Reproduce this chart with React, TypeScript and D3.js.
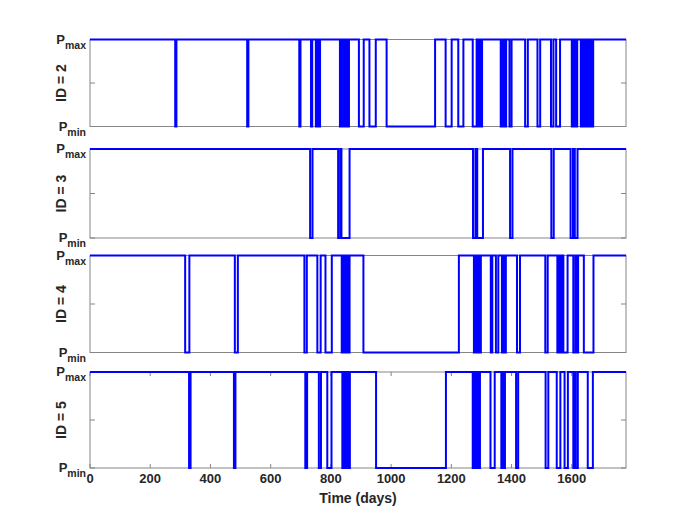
import * as React from 'react';
import * as d3 from 'd3';

// low (Pmin) intervals in days, signal sits at Pmax otherwise
const lowId2: [number, number][] = [
  [283, 287], [522, 526], [695, 699], [734, 738], [750, 754], [759, 764],
  [830, 834], [837, 841], [843, 846], [849, 853], [856, 860], [893, 909],
  [928, 949], [985, 1146], [1181, 1201], [1223, 1240], [1271, 1284],
  [1287, 1291], [1294, 1297], [1299, 1302], [1364, 1368], [1371, 1375],
  [1378, 1382], [1393, 1400], [1445, 1454], [1486, 1495], [1531, 1539],
  [1548, 1561], [1600, 1604], [1607, 1611], [1614, 1618], [1630, 1636],
  [1640, 1645], [1648, 1654], [1658, 1663], [1666, 1671],
];

const lowId3: [number, number][] = [
  [731, 739], [824, 831], [835, 862], [1272, 1280], [1286, 1305],
  [1395, 1403], [1532, 1540], [1596, 1604], [1610, 1619],
];

const lowId4: [number, number][] = [
  [316, 330], [481, 491], [712, 720], [755, 766], [782, 803],
  [836, 840], [843, 847], [850, 855], [857, 862], [908, 1225],
  [1275, 1279], [1282, 1286], [1289, 1293], [1295, 1298],
  [1331, 1336], [1348, 1356], [1368, 1372], [1376, 1381], [1418, 1428],
  [1512, 1520], [1552, 1558], [1562, 1566], [1572, 1586],
  [1605, 1612], [1615, 1621], [1640, 1672],
];

const lowId5: [number, number][] = [
  [329, 334], [478, 483], [715, 721], [760, 767], [788, 802],
  [838, 842], [846, 850], [852, 856], [858, 863], [950, 1182],
  [1271, 1275], [1278, 1282], [1285, 1289], [1291, 1295], [1330, 1344],
  [1366, 1370], [1373, 1378], [1415, 1422], [1513, 1522], [1550, 1562],
  [1576, 1587], [1605, 1610], [1613, 1620], [1653, 1670],
];

const panelIds = [2, 3, 4, 5];
const panelLows = [lowId2, lowId3, lowId4, lowId5];
const xTicks = [0, 200, 400, 600, 800, 1000, 1200, 1400, 1600];
const yTicks = [0, 0.5, 1];
const X_MAX = 1780;

interface Point {
  t: number;
  v: number;
}

const toSteps = (lows: [number, number][]): Point[] => {
  const pts: Point[] = [{ t: 0, v: 1 }];
  lows.forEach(([a, b]) => {
    pts.push({ t: a, v: 1 }, { t: a, v: 0 }, { t: b, v: 0 }, { t: b, v: 1 });
  });
  pts.push({ t: X_MAX, v: 1 });
  return pts;
};

const App = () => {
  const ref = React.useRef<SVGSVGElement>(null);

  const width = 692;
  const height = 526;
  const left = 90;
  const right = 626;
  const boxes = [
    { top: 39.5, bottom: 126.5 },
    { top: 149, bottom: 238 },
    { top: 255.5, bottom: 352.5 },
    { top: 372, bottom: 468 },
  ];
  const font = '"Liberation Sans", Arial, sans-serif';
  const axisColor = '#858585';

  React.useEffect(() => {
    const svg = d3.select(ref.current);
    svg.selectAll('*').remove();

    const x = d3.scaleLinear().domain([0, X_MAX]).range([left, right]);

    boxes.forEach((box, i) => {
      const y = d3.scaleLinear().domain([0, 1]).range([box.bottom, box.top]);
      const g = svg.append('g');

      // frame
      g.append('rect')
        .attr('x', left)
        .attr('y', box.top)
        .attr('width', right - left)
        .attr('height', box.bottom - box.top)
        .attr('fill', 'none')
        .attr('stroke', axisColor)
        .attr('stroke-width', 1);

      // y ticks both sides
      yTicks.forEach((v) => {
        g.append('line')
          .attr('x1', left).attr('x2', left + 5)
          .attr('y1', y(v)).attr('y2', y(v))
          .attr('stroke', axisColor);
        g.append('line')
          .attr('x1', right - 5).attr('x2', right)
          .attr('y1', y(v)).attr('y2', y(v))
          .attr('stroke', axisColor);
      });

      // P labels
      [
        { v: 1, sub: 'max' },
        { v: 0, sub: 'min' },
      ].forEach((d) => {
        const t = g.append('text')
          .attr('x', 86)
          .attr('y', y(d.v) + 4)
          .attr('text-anchor', 'end')
          .attr('font-family', font)
          .attr('font-weight', 'bold')
          .attr('fill', '#262626');
        t.append('tspan').attr('font-size', 13).text('P');
        t.append('tspan').attr('font-size', 10.5).attr('dy', 5).text(d.sub);
      });

      // ID label
      const cy = (box.top + box.bottom) / 2;
      g.append('text')
        .attr('transform', `translate(66, ${cy}) rotate(-90)`)
        .attr('text-anchor', 'middle')
        .attr('font-family', font)
        .attr('font-weight', 'bold')
        .attr('font-size', 14)
        .attr('fill', '#262626')
        .text(`ID = ${panelIds[i]}`);

      // x ticks only on the last panel
      if (i === boxes.length - 1) {
        xTicks.forEach((t) => {
          g.append('line')
            .attr('x1', x(t)).attr('x2', x(t))
            .attr('y1', box.bottom).attr('y2', box.bottom - 4)
            .attr('stroke', axisColor);
          g.append('line')
            .attr('x1', x(t)).attr('x2', x(t))
            .attr('y1', box.top).attr('y2', box.top + 4)
            .attr('stroke', axisColor);
          g.append('text')
            .attr('x', x(t))
            .attr('y', box.bottom + 15)
            .attr('text-anchor', 'middle')
            .attr('font-family', font)
            .attr('font-weight', 'bold')
            .attr('font-size', 13)
            .attr('fill', '#262626')
            .text(t);
        });
        g.append('text')
          .attr('x', (left + right) / 2)
          .attr('y', box.bottom + 35)
          .attr('text-anchor', 'middle')
          .attr('font-family', font)
          .attr('font-weight', 'bold')
          .attr('font-size', 14)
          .attr('fill', '#262626')
          .text('Time (days)');
      }

      // step signal
      g.append('path')
        .datum(toSteps(panelLows[i]))
        .attr('fill', 'none')
        .attr('stroke', '#0000ff')
        .attr('stroke-width', 2)
        .attr('stroke-linejoin', 'miter')
        .attr(
          'd',
          d3
            .line<Point>()
            .x((d) => x(d.t))
            .y((d) => y(d.v))
        );
    });
  });

  return (
    <svg
      ref={ref}
      width={width}
      height={height}
      style={{ position: 'absolute', left: 0, top: 0, background: '#fff' }}
    />
  );
};

export default App;
